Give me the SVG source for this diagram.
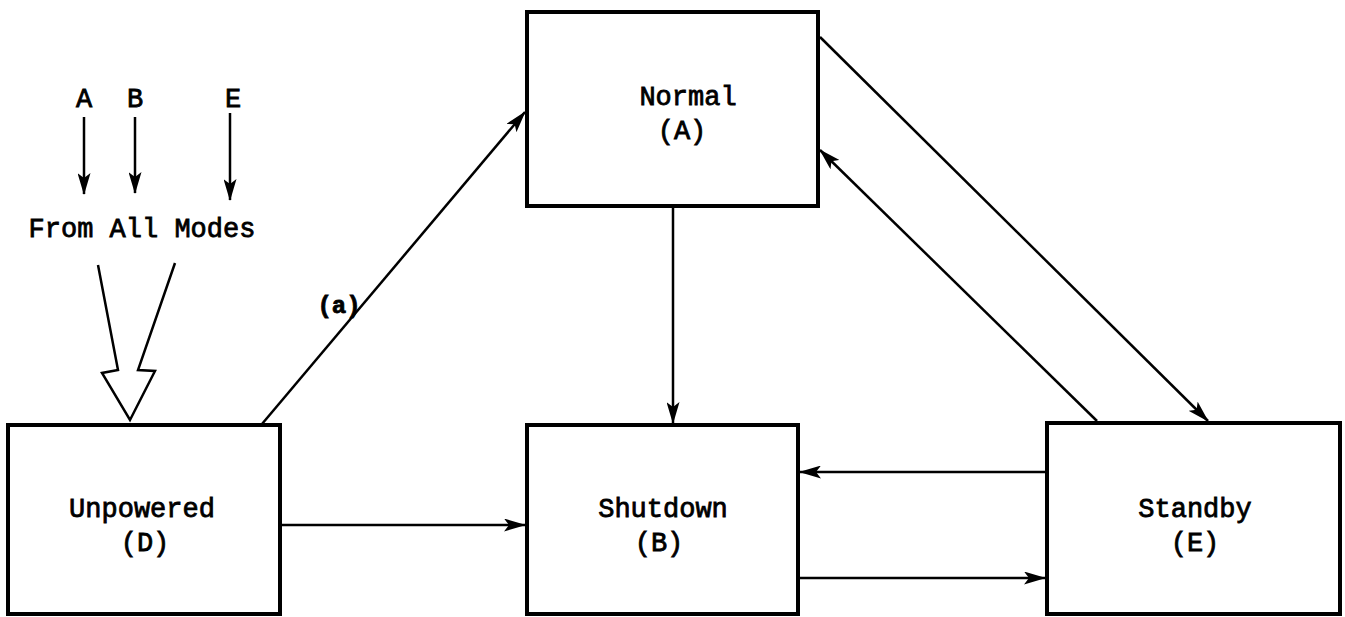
<svg xmlns="http://www.w3.org/2000/svg" width="1345" height="617" viewBox="0 0 1345 617">
<style>
.box{fill:#fff;stroke:#000;stroke-width:4}
.t{font-family:"Liberation Mono",monospace;font-weight:normal;font-size:27px;fill:#000;stroke:#000;stroke-width:0.8;text-anchor:middle}
.c{fill:none;stroke:#000;stroke-width:2.5}
</style>
<defs>
<marker id="ah" viewBox="0 0 22 13" refX="21" refY="6.5" markerWidth="22" markerHeight="13" markerUnits="userSpaceOnUse" orient="auto">
<path d="M0,0 L22,6.5 L0,13 L5,6.5 z" fill="#000"/>
</marker>
</defs>
<rect width="1345" height="617" fill="#fff"/>
<g id="normal">
<rect class="box" x="527" y="12" width="291" height="194"/>
<text class="t" x="688" y="105">Normal</text>
<text class="t" x="682" y="139">(A)</text>
</g>
<g id="unpowered">
<rect class="box" x="8" y="425" width="272" height="189"/>
<text class="t" x="142" y="517">Unpowered</text>
<text class="t" x="145" y="551">(D)</text>
</g>
<g id="shutdown">
<rect class="box" x="527" y="425" width="271" height="189"/>
<text class="t" x="663" y="517">Shutdown</text>
<text class="t" x="659" y="551">(B)</text>
</g>
<g id="standby">
<rect class="box" x="1047" y="423" width="293" height="191"/>
<text class="t" x="1195" y="517">Standby</text>
<text class="t" x="1195" y="551">(E)</text>
</g>
<g id="from-all-modes">
<text class="t" x="84" y="107">A</text>
<text class="t" x="135" y="107">B</text>
<text class="t" x="233" y="107">E</text>
<text class="t" x="142" y="237">From All Modes</text>
</g>
<g id="connectors">
<line class="c" x1="84" y1="117" x2="84" y2="194" marker-end="url(#ah)"/>
<line class="c" x1="135" y1="117" x2="135" y2="193" marker-end="url(#ah)"/>
<line class="c" x1="230" y1="113" x2="230" y2="200" marker-end="url(#ah)"/>
<path class="c" d="M98,265 L118,370 L102,373 L130,420 L155,371 L138,370 L175,263"/>
<line class="c" x1="262" y1="424" x2="525" y2="112" marker-end="url(#ah)"/>
<text class="t" x="339" y="313" style="font-size:24px;font-weight:bold">(a)</text>
<line class="c" x1="673" y1="207" x2="673" y2="423" marker-end="url(#ah)"/>
<line class="c" x1="282" y1="525" x2="525" y2="525" marker-end="url(#ah)"/>
<line class="c" x1="1045" y1="472" x2="800" y2="472" marker-end="url(#ah)"/>
<line class="c" x1="800" y1="578" x2="1045" y2="578" marker-end="url(#ah)"/>
<line class="c" x1="820" y1="37" x2="1208" y2="421" marker-end="url(#ah)"/>
<line class="c" x1="1097" y1="421" x2="820" y2="150" marker-end="url(#ah)"/>
</g>
</svg>
